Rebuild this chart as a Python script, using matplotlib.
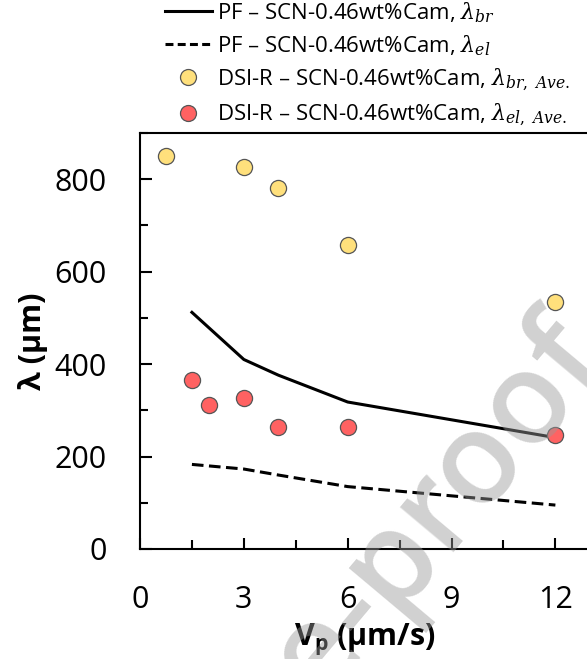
import matplotlib
matplotlib.use("Agg")
import math
import matplotlib.pyplot as plt
from matplotlib.lines import Line2D
from matplotlib.ticker import MultipleLocator, FixedLocator

plt.rcParams['font.family'] = ['Open Sans', 'DejaVu Sans']
plt.rcParams['mathtext.fontset'] = 'dejavuserif'

# PF simulations
pf_v = [1.5, 3, 4, 6, 12]
pf_br = [512, 410, 376, 318, 241]
pf_el = [183, 173, 160, 135, 95]

# DSI-R experiments
dsi_br_v = [0.75, 3, 4, 6, 12]
dsi_br = [851, 827, 781, 657, 534]
dsi_el_v = [1.5, 2, 3, 4, 6, 12]
dsi_el = [365, 311, 326, 265, 264, 247]

labels = [
    r'PF – SCN-0.46wt%Cam, $\lambda_{br}$',
    r'PF – SCN-0.46wt%Cam, $\lambda_{el}$',
    r'DSI-R – SCN-0.46wt%Cam, $\lambda_{br,\ Ave.}$',
    r'DSI-R – SCN-0.46wt%Cam, $\lambda_{el,\ Ave.}$',
]

W, H = 587, 659
fig = plt.figure(figsize=(W / 100, H / 100), dpi=100)
ax = fig.add_axes([140 / W, (H - 549) / H, (590 - 140) / W, (549 - 133) / H])

dash = (0, (3.8, 1.8))
ax.plot(pf_v, pf_br, color='black', lw=2.2, zorder=3)
ax.plot(pf_v, pf_el, color='black', lw=2.2, ls=dash, zorder=3)
ax.scatter(dsi_br_v, dsi_br, s=135, color='#FFE07C', edgecolor='#555555', linewidth=0.9, zorder=4)
ax.scatter(dsi_el_v, dsi_el, s=135, color='#FF6262', edgecolor='#555555', linewidth=0.9, zorder=4)

ax.set_xlim(0, 13)
ax.set_ylim(0, 900)
ax.xaxis.set_major_locator(FixedLocator([0, 3, 6, 9, 12]))
ax.xaxis.set_minor_locator(FixedLocator([1.5, 4.5, 7.5, 10.5]))
ax.yaxis.set_major_locator(MultipleLocator(200))
ax.yaxis.set_minor_locator(MultipleLocator(100))
ax.tick_params(axis='both', which='both', direction='in', width=1.5, labelsize=22)
ax.tick_params(axis='x', which='major', length=8, pad=26)
ax.tick_params(axis='x', which='minor', length=6.5)
ax.tick_params(axis='y', which='major', length=8.5, pad=24)
ax.tick_params(axis='y', which='minor', length=6)
ax.tick_params(top=False, right=False)
ax.spines['right'].set_visible(False)
for s in ['left', 'bottom', 'top']:
    ax.spines[s].set_linewidth(1.5)

ax.set_xlabel(r'V$_\mathregular{p}$ (μm/s)', fontsize=22, fontweight='bold')
ax.xaxis.set_label_coords(0.5, -0.175)
ax.xaxis.label.set_va('top')
ax.set_ylabel('λ (μm)', fontsize=22, fontweight='bold')
ax.yaxis.set_label_coords(-0.205, 0.5)

handles = [
    Line2D([], [], color='black', lw=2.2),
    Line2D([], [], color='black', lw=2.2, ls=(0, (2.6, 1.4))),
    Line2D([], [], ls='none', marker='o', markersize=11.5, markerfacecolor='#FFE07C', markeredgecolor='#555555', markeredgewidth=0.9),
    Line2D([], [], ls='none', marker='o', markersize=11.5, markerfacecolor='#FF6262', markeredgecolor='#555555', markeredgewidth=0.9),
]
fig.legend(handles, labels, loc='upper left', bbox_to_anchor=(165 / W, 1.0),
           frameon=False, fontsize=16, handlelength=2.1, handletextpad=0.25,
           borderpad=0, borderaxespad=0, labelspacing=0.38)

# watermark: place so that the first "o" of "proof" is centred at a target pixel
wm_text = 'Journal Pre-proof'
wm_size = 92
wm_weight = 'semibold'
wm_angle = 50
target = (486, 472)  # pixel (x from left, y from top)
renderer = fig.canvas.get_renderer()
def text_width(s):
    t = fig.text(0, 0, s, fontsize=wm_size, fontweight=wm_weight)
    w = t.get_window_extent(renderer).width
    t.remove()
    return w
em = wm_size * 100 / 72
along = text_width('Journal Pre-pr') + text_width('o') / 2
up = 0.27 * em
th = math.radians(wm_angle)
ax_px = target[0] - along * math.cos(th) + up * math.sin(th)
ay_px = target[1] + along * math.sin(th) + up * math.cos(th)
fig.text(ax_px / W, (H - ay_px) / H, wm_text, fontsize=wm_size, fontweight=wm_weight,
         color='#999999', alpha=0.45, rotation=wm_angle, ha='left', va='baseline',
         rotation_mode='anchor', zorder=10)

fig.savefig('out.png', dpi=100)
